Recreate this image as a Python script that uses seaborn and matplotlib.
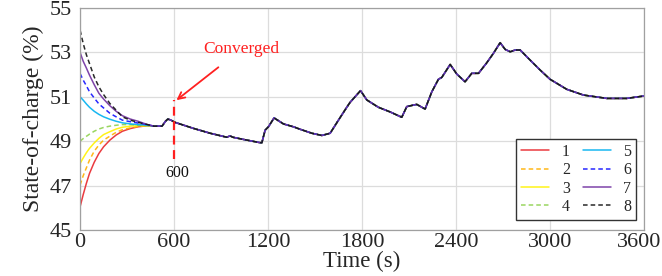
import numpy as np
import pandas as pd
import matplotlib
matplotlib.use("Agg")
import matplotlib.pyplot as plt
import matplotlib.transforms as mtransforms
import seaborn as sns

# ---- data ----
t_init = [0, 20, 40, 60, 90, 120, 150, 190, 230, 270, 320, 370, 430]
soc_init = {
    "1": [46.05, 46.6, 47.1, 47.55, 48.05, 48.45, 48.75, 49.05, 49.28, 49.45, 49.57, 49.65, 49.7],
    "2": [47.03, 47.45, 47.8, 48.15, 48.55, 48.83, 49.05, 49.23, 49.4, 49.52, 49.6, 49.66, 49.7],
    "3": [48.0, 48.25, 48.48, 48.68, 48.92, 49.13, 49.3, 49.43, 49.55, 49.63, 49.68, 49.7, 49.7],
    "4": [49.0, 49.12, 49.22, 49.32, 49.45, 49.55, 49.62, 49.68, 49.72, 49.75, 49.75, 49.72, 49.7],
    "5": [51.0, 50.85, 50.68, 50.53, 50.35, 50.21, 50.1, 49.99, 49.9, 49.83, 49.78, 49.75, 49.72],
    "6": [52.05, 51.75, 51.5, 51.23, 50.95, 50.68, 50.5, 50.26, 50.1, 49.95, 49.88, 49.82, 49.75],
    "7": [53.0, 52.6, 52.3, 51.98, 51.55, 51.16, 50.9, 50.6, 50.35, 50.15, 50.0, 49.9, 49.75],
    "8": [54.0, 53.4, 52.9, 52.5, 51.9, 51.45, 51.1, 50.7, 50.4, 50.1, 49.95, 49.85, 49.75],
}
t_common = [470, 523, 545, 560, 580, 606, 723, 830, 936, 957, 975, 1043, 1145, 1160,
            1181, 1202, 1238, 1298, 1362, 1404, 1479, 1543, 1596, 1649, 1702, 1723,
            1790, 1830, 1904, 1979, 2053, 2085, 2128, 2149, 2202, 2245, 2287, 2309,
            2362, 2404, 2457, 2500, 2543, 2596, 2638, 2681, 2713, 2745, 2777, 2809,
            2862, 2936, 3000, 3106, 3213, 3362, 3489, 3600]
soc_common = [49.68, 49.68, 49.9, 50.0, 49.95, 49.85, 49.58, 49.36, 49.18, 49.24, 49.18,
              49.08, 48.94, 48.93, 49.5, 49.65, 50.05, 49.78, 49.65, 49.54, 49.36, 49.26,
              49.36, 49.95, 50.53, 50.75, 51.28, 50.86, 50.53, 50.32, 50.08, 50.56, 50.63,
              50.66, 50.45, 51.23, 51.79, 51.88, 52.46, 52.03, 51.68, 52.06, 52.06, 52.54,
              52.96, 53.44, 53.14, 53.03, 53.11, 53.11, 52.73, 52.21, 51.79, 51.34, 51.08,
              50.93, 50.93, 51.04]
series_names = ["1", "2", "3", "4", "5", "6", "7", "8"]
series_colors = ["#e8262b", "#ffb000", "#fff200", "#8fd14f", "#00b0f0", "#1010ff", "#7030a0", "#111111"]
series_dashed = [False, True, False, True, False, True, False, True]
x_ticks = [0, 600, 1200, 1800, 2400, 3000, 3600]
y_ticks = [45, 47, 49, 51, 53, 55]
converge_t = 600

rows = []
for name in series_names:
    for t, v in zip(t_init + t_common, soc_init[name] + soc_common):
        rows.append((name, t, v))
df = pd.DataFrame(rows, columns=["series", "time", "soc"])

sns.set_theme(style="white")
plt.rcParams["font.family"] = ["Liberation Serif", "DejaVu Serif"]

fig = plt.figure(figsize=(6.62, 2.76), dpi=100)
ax = fig.add_axes([0.121, 0.1667, 0.852, 0.804])

for name, col, dsh in zip(series_names, series_colors, series_dashed):
    sub = df[df["series"] == name]
    sns.lineplot(data=sub, x="time", y="soc", ax=ax, color=col, lw=1.1,
                 label=name, estimator=None, sort=True, alpha=0.9)
    if dsh:
        ax.lines[-1].set_dashes((3, 2))

ax.set_xlim(0, 3600)
ax.set_ylim(45, 55)
ax.set_xticks(x_ticks)
ax.set_yticks(y_ticks)
ax.tick_params(axis="both", labelsize=16, length=0)
ax.tick_params(axis="x", pad=2)
ax.tick_params(axis="y", pad=6)
ax.grid(True, color="#dcdcdc", lw=0.9)
for s in ax.spines.values():
    s.set_color("#a0a0a0")
    s.set_linewidth(0.9)
# nudge the last x tick label slightly inward, as in the reference
lbls = ax.get_xticklabels()
lbls[-1].set_transform(lbls[-1].get_transform() +
                       mtransforms.ScaledTranslation(-5 / 100, 0, fig.dpi_scale_trans))
ax.set_xlabel("Time (s)", fontsize=16.5, labelpad=-1)
ax.set_ylabel("State-of-charge (%)", fontsize=17, labelpad=4)

# convergence marker
ax.plot([converge_t, converge_t], [48.2, 50.85], color="#ff2020", lw=1.6, ls=(0, (4, 2.5)))
ax.annotate("Converged", xy=(converge_t + 15, 50.85), xytext=(1030, 53.15),
            color="#ff2020", fontsize=12.5, ha="center", va="center",
            arrowprops=dict(arrowstyle="->", color="#ff2020", lw=1.3,
                            shrinkA=8, shrinkB=0, mutation_scale=12))
ax.text(converge_t + 20, 47.55, "600", fontsize=11.5, ha="center", va="center", color="#111111")

leg = ax.legend(ncol=2, loc="lower right", bbox_to_anchor=(1.0, 0.01), fontsize=11.5,
                frameon=True, fancybox=False, edgecolor="#333333", framealpha=1,
                handlelength=1.75, handletextpad=0.8, columnspacing=0.8,
                labelspacing=0.15, borderpad=0.3)
leg.get_frame().set_linewidth(1.0)

fig.savefig("out.png", dpi=100)
